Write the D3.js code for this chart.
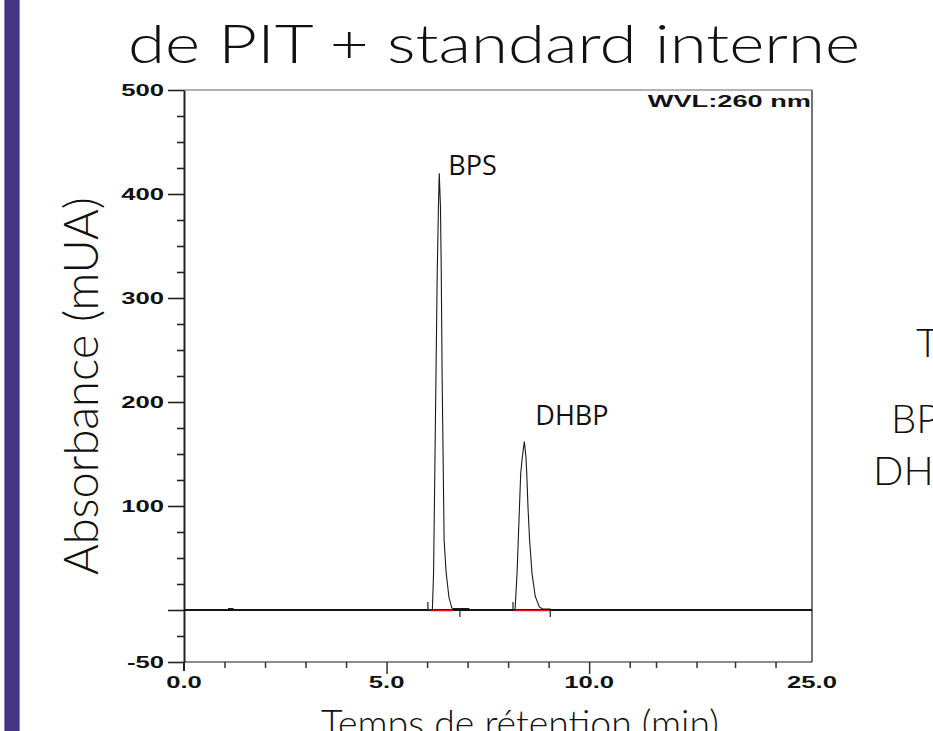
<!DOCTYPE html>
<html><head><meta charset="utf-8">
<script src="https://cdn.jsdelivr.net/npm/d3@7"></script>
<style>body{margin:0;background:#fff}svg{display:block}</style>
</head><body>
<svg id="chart" width="933" height="731"></svg>
<script>
// ---- data ----
const titleText = "de PIT + standard interne";
const yAxisTitle = "Absorbance (mUA)";
const xAxisTitle = "Temps de rétention (min)";
const wavelengthLabel = "WVL:260 nm";
const sideTexts = ["T", "BP", "DH"];
const peakNames = ["BPS", "DHBP"];
const peakApexTime = [6.30, 8.40];
const peakApexValue = [420, 162];
const xMajorTicks = [0, 5, 10, 15.5];
const xMajorLabels = ["0.0", "5.0", "10.0", "25.0"];
const xMinorTicks = [1, 2, 3, 4, 6, 7, 8, 9, 11, 11.65, 12.65, 13.6, 14.6];
const yMajorTicks = [500, 400, 300, 200, 100, 0, -50];
const yMajorLabels = ["500", "400", "300", "200", "100", "", "-50"];
const yMinorTicks = [475, 450, 425, 375, 350, 325, 275, 250, 225, 175, 150, 125, 75, 50, 25, -25];
const traceTime  = [0, 1.08, 1.10, 1.21, 1.23, 6.13, 6.16, 6.19, 6.22, 6.25, 6.28, 6.30, 6.33, 6.35, 6.37, 6.40, 6.42, 6.47, 6.54, 6.61, 6.64, 7.03, 7.05,
                    8.17, 8.22, 8.25, 8.28, 8.31, 8.35, 8.40, 8.44, 8.46, 8.49, 8.53, 8.59, 8.67, 8.77, 8.85, 9.04, 9.06, 15.5];
const traceValue = [0, 0, 1.5, 1.5, 0, 0, 36, 132, 228, 324, 388, 420, 388, 324, 228, 132, 67, 36, 12, 2, 1.5, 1.5, 0,
                    0, 35, 67, 99, 131, 147, 162, 147, 131, 99, 67, 35, 13, 3, 1, 1, 0, 0];
const integStart = [6.02, 8.12];
const integEnd = [6.81, 9.04];
const redStart = [6.05, 8.14];
const redEnd = [6.64, 9.04];

// ---- drawing ----
const svg = d3.select("#chart");
svg.append("rect").attr("width", 933).attr("height", 731).attr("fill", "#fff");

// purple side bar
svg.append("rect").attr("x", 4).attr("y", 0).attr("width", 16).attr("height", 731).attr("fill", "#443483");
svg.append("line").attr("x1", 4.5).attr("x2", 4.5).attr("y1", 0).attr("y2", 731).attr("stroke", "#8a7fc0").attr("stroke-width", 1);
svg.append("line").attr("x1", 19.5).attr("x2", 19.5).attr("y1", 0).attr("y2", 731).attr("stroke", "#8a7fc0").attr("stroke-width", 1);

const slideFont = "Lato, 'Open Sans', sans-serif";

function fitText(sel, target, base) {
  sel.style("font-size", base + "px");
  const len = sel.node().getComputedTextLength();
  sel.style("font-size", (base * target / len) + "px");
}

// title
svg.append("text").attr("x", 128).attr("y", 63)
  .style("font-family", slideFont).style("font-weight", 300).style("font-size", "53px")
  .attr("textLength", 732).attr("lengthAdjust", "spacingAndGlyphs")
  .attr("fill", "#111").text(titleText);

const x = d3.scaleLinear().domain([0, 15.5]).range([184, 812]);
const y = d3.scaleLinear().domain([-50, 500]).range([662, 90]);

// frame: top & bottom gray, right dark
svg.append("line").attr("x1", x(0)).attr("x2", x(15.5)).attr("y1", y(500)).attr("y2", y(500)).attr("stroke", "#9a9a9a").attr("stroke-width", 1.5);
svg.append("line").attr("x1", x(0)).attr("x2", x(15.5)).attr("y1", y(-50)).attr("y2", y(-50)).attr("stroke", "#8c8c8c").attr("stroke-width", 2);
svg.append("line").attr("x1", x(15.5)).attr("x2", x(15.5)).attr("y1", y(500)).attr("y2", y(-50)).attr("stroke", "#444").attr("stroke-width", 1.5);

const tickFont = "'Liberation Sans', Arial, sans-serif";

// y axis
const yAx = svg.append("g").attr("transform", `translate(${x(0)},0)`)
  .call(d3.axisLeft(y).tickValues(yMajorTicks).tickSize(16).tickSizeOuter(0).tickFormat((d, i) => yMajorLabels[i]));
yAx.select(".domain").attr("stroke", "#222").attr("stroke-width", 2);
yAx.selectAll(".tick line").attr("stroke", "#222").attr("stroke-width", 1.6);
yAx.selectAll(".tick text").attr("x", null).attr("dy", "0.36em")
  .attr("transform", "translate(-20,0) scale(1.6,1)").attr("text-anchor", "end")
  .style("font-family", tickFont).style("font-weight", "bold").style("font-size", "16px").attr("fill", "#111");
const yMin = svg.append("g").attr("transform", `translate(${x(0)},0)`)
  .call(d3.axisLeft(y).tickValues(yMinorTicks).tickSize(7).tickFormat(""));
yMin.select(".domain").remove();
yMin.selectAll(".tick line").attr("stroke", "#222").attr("stroke-width", 1.6);

// extend left axis line below the frame
svg.append("line").attr("x1", x(0)).attr("x2", x(0)).attr("y1", y(-50)).attr("y2", y(-50) + 9).attr("stroke", "#222").attr("stroke-width", 2);

// x axis
const xAx = svg.append("g").attr("transform", `translate(0,${y(-50)})`)
  .call(d3.axisBottom(x).tickValues(xMajorTicks.slice(1, 3)).tickSize(12).tickFormat(""));
xAx.select(".domain").remove();
xAx.selectAll(".tick line").attr("stroke", "#333").attr("stroke-width", 1.5);
const xMin = svg.append("g").attr("transform", `translate(0,${y(-50)})`)
  .call(d3.axisBottom(x).tickValues(xMinorTicks).tickSize(6).tickFormat(""));
xMin.select(".domain").remove();
xMin.selectAll(".tick line").attr("stroke", "#333").attr("stroke-width", 1.5);

svg.append("g").selectAll("text").data(xMajorTicks).join("text")
  .attr("transform", d => `translate(${x(d)},${y(-50) + 26}) scale(1.6,1)`)
  .attr("text-anchor", "middle")
  .style("font-family", tickFont).style("font-weight", "bold").style("font-size", "16px").attr("fill", "#111")
  .text((d, i) => xMajorLabels[i]);

// wavelength label
svg.append("text").attr("transform", `translate(${x(15.5) - 1},${y(500) + 17}) scale(1.6,1)`)
  .attr("text-anchor", "end")
  .style("font-family", tickFont).style("font-weight", "bold").style("font-size", "17px").attr("fill", "#111")
  .text(wavelengthLabel);

// thick baseline
svg.append("line").attr("x1", x(0)).attr("x2", x(15.5)).attr("y1", y(0)).attr("y2", y(0)).attr("stroke", "#111").attr("stroke-width", 2.2);

// red integration baselines
svg.append("g").selectAll("line").data(redStart).join("line")
  .attr("x1", d => x(d)).attr("x2", (d, i) => x(redEnd[i]))
  .attr("y1", y(0) + 0.5).attr("y2", y(0) + 0.5).attr("stroke", "#e8141b").attr("stroke-width", 1.6);

// trace
const pts = traceTime.map((t, i) => [t, traceValue[i]]);
svg.append("path").datum(pts)
  .attr("d", d3.line().x(d => x(d[0])).y(d => y(d[1])))
  .attr("fill", "none").attr("stroke", "#1a1a1a").attr("stroke-width", 1.1);

// integration markers
svg.append("g").selectAll("line").data(integStart).join("line")
  .attr("x1", d => x(d)).attr("x2", d => x(d)).attr("y1", y(0)).attr("y2", y(0) - 8)
  .attr("stroke", "#222").attr("stroke-width", 1.2);
svg.append("g").selectAll("line").data(integEnd).join("line")
  .attr("x1", d => x(d)).attr("x2", d => x(d)).attr("y1", y(0)).attr("y2", y(0) + 7)
  .attr("stroke", "#222").attr("stroke-width", 1.2);

// peak labels
svg.append("g").selectAll("text").data(peakNames).join("text")
  .attr("x", (d, i) => x(peakApexTime[i]) + [9, 11][i])
  .attr("y", (d, i) => y(peakApexValue[i]) + [2, -17][i])
  .style("font-family", "'Open Sans', sans-serif").style("font-size", "27px").attr("fill", "#111")
  .text(d => d);

// axis titles
const yt = svg.append("text").attr("transform", "translate(98,386) rotate(-90)")
  .attr("text-anchor", "middle").style("font-family", slideFont).style("font-weight", 300).attr("fill", "#111")
  .text(yAxisTitle);
fitText(yt, 378, 34);
const xt = svg.append("text").attr("x", 520).attr("y", 737)
  .attr("text-anchor", "middle").style("font-family", slideFont).style("font-weight", 300).attr("fill", "#111")
  .text(xAxisTitle);
fitText(xt, 398, 34);

// cut-off side texts (cropped by the slide edge, as in the source)
const sideX = [916, 891, 873];
const sideY = [357, 433, 485];
svg.append("g").selectAll("text").data(sideTexts).join("text")
  .attr("x", (d, i) => sideX[i]).attr("y", (d, i) => sideY[i])
  .style("font-family", slideFont).style("font-weight", 300).style("font-size", "40px").attr("fill", "#111")
  .text(d => d);
</script>
</body></html>
